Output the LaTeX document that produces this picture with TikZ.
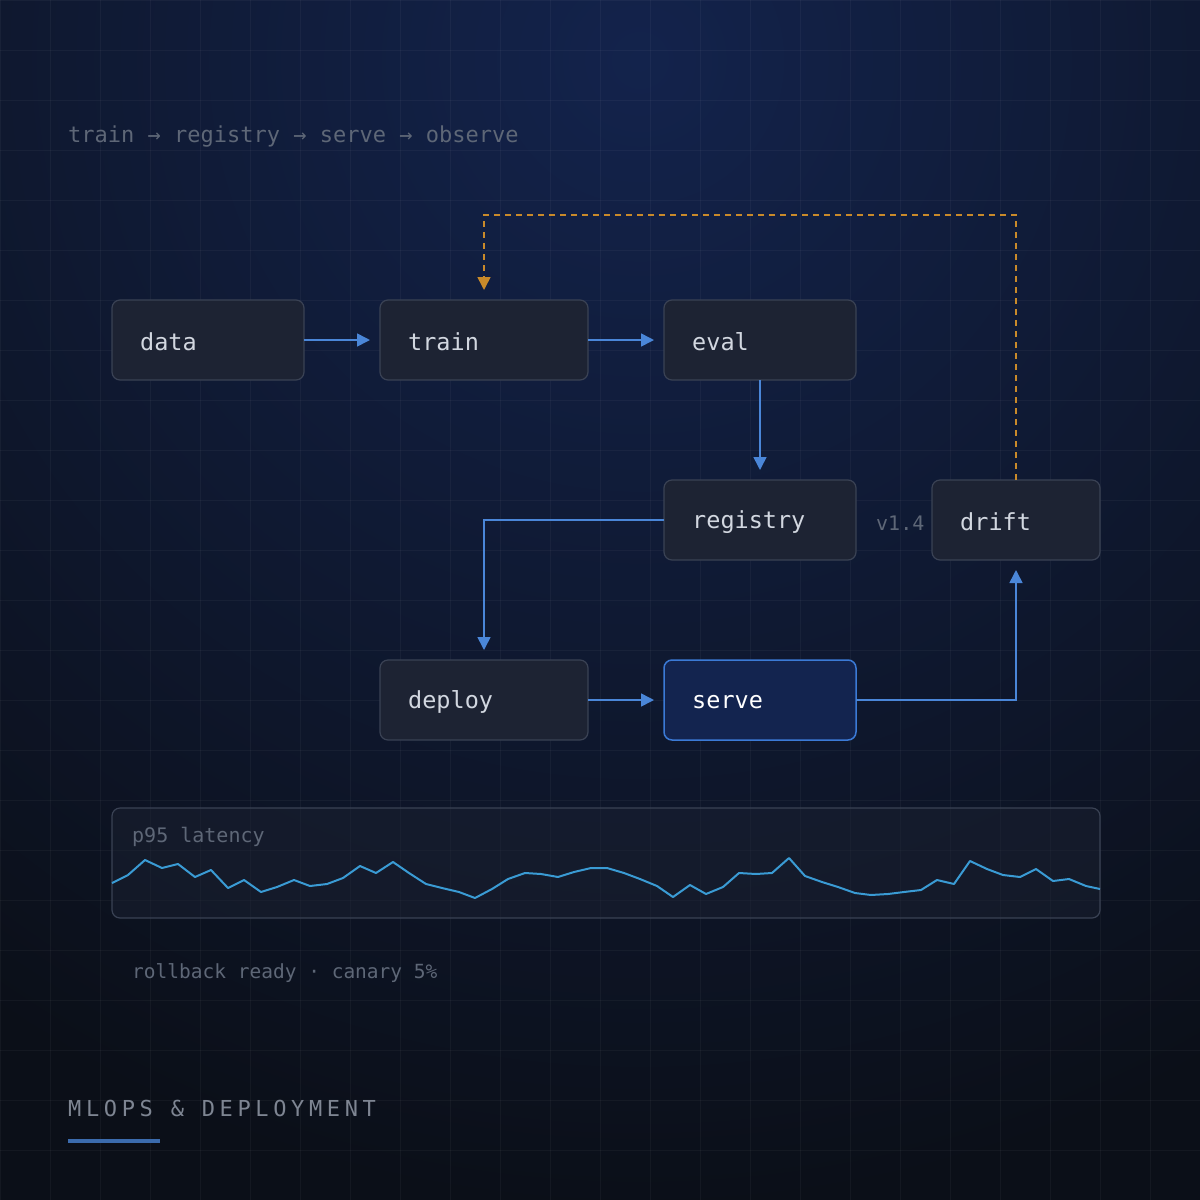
\documentclass[tikz,border=0pt]{standalone}
\usepackage{fontspec}
\setmonofont{DejaVu Sans Mono}
\newfontfamily\spaced{DejaVu Sans Mono}[LetterSpace=21]
\usetikzlibrary{arrows.meta}
\definecolor{bgA}{HTML}{13234C}
\definecolor{bgB}{HTML}{0B0F18}
\definecolor{nodefill}{HTML}{1D2333}
\definecolor{nodeline}{HTML}{3A4254}
\definecolor{nodetext}{HTML}{D2D7E0}
\definecolor{muted}{HTML}{5E6777}
\definecolor{flow}{HTML}{4A86D8}
\definecolor{loopc}{HTML}{C98A2A}
\definecolor{servefill}{HTML}{13244F}
\definecolor{serveline}{HTML}{3B7AD6}
\definecolor{spark}{HTML}{3A9BD4}
\begin{document}
\begin{tikzpicture}[x=1pt,y=-1pt,
  box/.style={draw=nodeline,fill=nodefill,rounded corners=8pt,line width=1.2pt},
  lbl/.style={font=\ttfamily\fontsize{23.5}{26}\selectfont,text=nodetext,anchor=west,inner sep=0},
  small/.style={font=\ttfamily\fontsize{20}{22}\selectfont,text=muted,anchor=west,inner sep=0},
  arr/.style={draw=flow,line width=1.6pt,-{Triangle[length=13pt,width=13pt]}},
  feedback/.style={draw=loopc,line width=1.6pt,dash pattern=on 6pt off 5pt,-{Triangle[length=13pt,width=13pt]}}]
\useasboundingbox (0,0) rectangle (1200,1200);
\fill[bgB] (0,0) rectangle (1200,1200);
\begin{scope}
\clip (0,0) rectangle (1200,1200);
\shade[inner color=bgA,outer color=bgB] (640,60) circle (1150);
\end{scope}
\foreach \i in {0,50,...,1200}{
  \draw[white,opacity=0.04,line width=0.8pt] (\i,0)--(\i,1200);
  \draw[white,opacity=0.04,line width=0.8pt] (0,\i)--(1200,\i);}
\node[font=\ttfamily\fontsize{22}{24}\selectfont,text=muted,anchor=west,inner sep=0] (hdr) at (68,137) {train → registry → serve → observe};
% nodes
\draw[box] (112,300) rectangle (304,380); \node (data) at (208,340) {}; \node[lbl] (tdata) at (140,342) {data};
\draw[box] (380,300) rectangle (588,380); \node (train) at (484,340) {}; \node[lbl] at (408,342) {train};
\draw[box] (664,300) rectangle (856,380); \node (eval) at (760,340) {}; \node[lbl] at (692,342) {eval};
\draw[box] (664,480) rectangle (856,560); \node (registry) at (760,520) {}; \node[lbl] at (692,522) {registry};
\draw[box] (932,480) rectangle (1100,560); \node (drift) at (1016,520) {}; \node[lbl] at (960,522) {drift};
\draw[box] (380,660) rectangle (588,740); \node (deploy) at (484,700) {}; \node[lbl] at (408,702) {deploy};
\draw[draw=serveline,fill=servefill,rounded corners=8pt,line width=1.5pt] (664,660) rectangle (856,740); \node (serve) at (760,700) {};
\node[lbl,text=white] at (692,702) {serve};
\node[small] (ver) at (876,523) {v1.4};
% connectors
\coordinate (dataE) at (304,340); \coordinate (trainW) at (370,340);
\draw[arr] (dataE) -- (trainW);
\coordinate (trainE) at (588,340); \coordinate (evalW) at (654,340);
\draw[arr] (trainE) -- (evalW);
\coordinate (evalS) at (760,380); \coordinate (regN) at (760,470);
\draw[arr] (evalS) -- (regN);
\coordinate (regW) at (664,520); \coordinate (depN) at (484,650);
\draw[arr] (regW) -- (484,520) -- (depN);
\coordinate (depE) at (588,700); \coordinate (servW) at (654,700);
\draw[arr] (depE) -- (servW);
\coordinate (servE) at (856,700); \coordinate (driftS) at (1016,570);
\draw[arr] (servE) -- (1016,700) -- (driftS);
\coordinate (driftN) at (1016,480); \coordinate (trainN) at (484,290);
\draw[feedback] (driftN) -- (1016,215) -- (484,215) -- (trainN);
% sparkline panel
\draw[draw=nodeline,fill=nodefill,fill opacity=0.45,rounded corners=8pt,line width=1.2pt] (112,808) rectangle (1100,918);
\node[small] (p95) at (132,837) {p95 latency};
\draw[spark,line width=2pt,line join=round] (112,883)--(128,875)--(145,860)--(162,868)--(178,864)--(195,877)--(211,870)--(228,888)--(244,880)--(261,892)--(277,887)--(294,880)--(310,886)--(327,884)--(343,878)--(360,866)--(376,873)--(393,862)--(409,873)--(426,884)--(442,888)--(459,892)--(475,898)--(492,889)--(508,879)--(525,873)--(541,874)--(558,877)--(574,872)--(591,868)--(607,868)--(624,873)--(640,879)--(657,886)--(673,897)--(690,885)--(706,894)--(723,887)--(739,873)--(756,874)--(772,873)--(789,858)--(805,876)--(822,882)--(838,887)--(855,893)--(871,895)--(888,894)--(904,892)--(921,890)--(937,880)--(954,884)--(970,861)--(987,869)--(1003,875)--(1020,877)--(1036,869)--(1053,881)--(1069,879)--(1086,886)--(1100,889);
\node[small,font=\ttfamily\fontsize{19.5}{22}\selectfont] (roll) at (132,973) {rollback ready · canary 5\%};
\node[font=\spaced\fontsize{22}{24}\selectfont,text=muted!80!white,anchor=west,inner sep=0] (title) at (68,1108) {MLOPS \& DEPLOYMENT};
\draw[flow!80!black,line width=4pt] (68,1141) -- (160,1141);
\end{tikzpicture}
\end{document}
